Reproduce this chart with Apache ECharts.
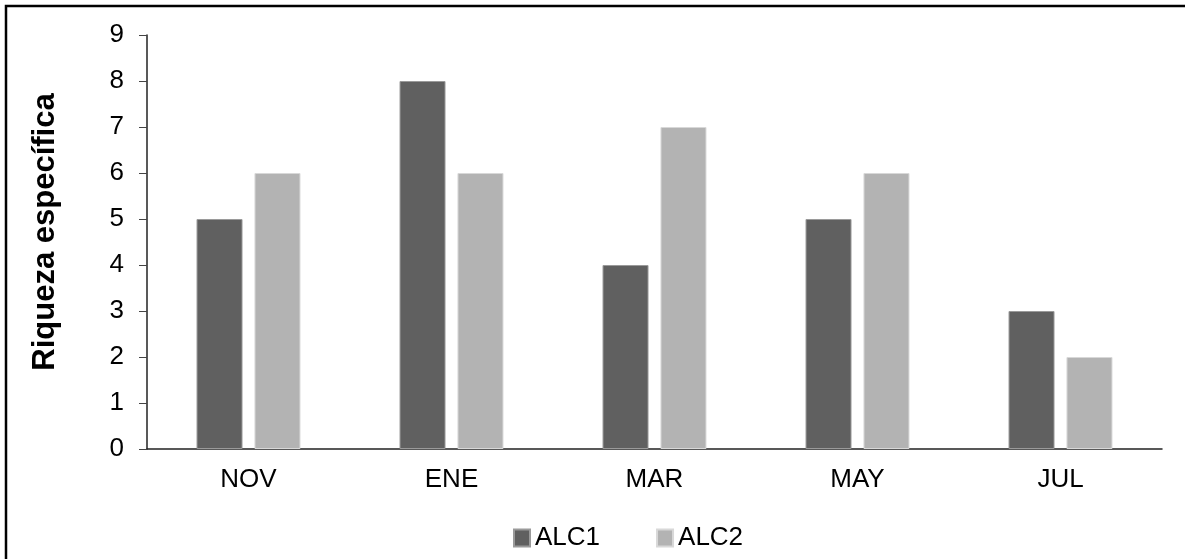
<!DOCTYPE html>
<html><head><meta charset="utf-8">
<script src="https://cdn.jsdelivr.net/npm/echarts@6/dist/echarts.min.js"></script>
<style>html,body{margin:0;padding:0;background:#fff}#c{width:1185px;height:559px}</style>
</head><body><div id="c"></div>
<script>
const categories = ['NOV','ENE','MAR','MAY','JUL'];
const alc1 = [5, 8, 4, 5, 3];
const alc2 = [6, 6, 7, 6, 2];
const yTicks = [0,1,2,3,4,5,6,7,8,9];

const chart = echarts.init(document.getElementById('c'), null, {renderer:'canvas'});
const font = 'Liberation Sans, Arial, sans-serif';
chart.setOption({
  animation:false,
  backgroundColor:'#fff',
  textStyle:{fontFamily:font},
  graphic:[{type:'rect',shape:{x:6,y:6,width:1200,height:600},style:{fill:'none',stroke:'#000',lineWidth:2.5},z:100}],
  grid:{left:147,right:23,top:35,bottom:110,containLabel:false},
  legend:{top:520,left:508,itemWidth:16,itemHeight:17,itemGap:56,
    textStyle:{fontSize:26,color:'#000',fontFamily:font},
    data:['ALC1','ALC2'], icon:'rect'},
  xAxis:[{type:'category',data:categories,
    axisLine:{lineStyle:{color:'#222',width:1.5}},
    axisTick:{length:8,lineStyle:{color:'#444'}},
    axisLabel:{fontSize:26,color:'#000',margin:18,fontFamily:font}},
   {type:'category',data:categories,position:'bottom',
    axisLine:{show:false},
    axisTick:{alignWithLabel:true,inside:true,length:6,lineStyle:{color:'#444'}},
    axisLabel:{show:false}}],
  yAxis:{type:'value',min:yTicks[0],max:yTicks[yTicks.length-1],interval:1,
    name:'Riqueza específica',nameLocation:'middle',nameGap:86,
    nameTextStyle:{fontSize:31,fontWeight:'bold',color:'#000',fontFamily:font,padding:[0,0,0,20]},
    axisLine:{show:true,lineStyle:{color:'#222',width:1.5}},
    axisTick:{show:true,length:8,lineStyle:{color:'#444'}},
    splitLine:{show:false},
    axisLabel:{fontSize:26,color:'#000',margin:23,fontFamily:font}},
  series:[
    {name:'ALC1',type:'bar',data:alc1,barWidth:46,barGap:'26%',
     itemStyle:{color:'#606060',borderColor:'#9a9a9a',borderWidth:1}},
    {name:'ALC2',type:'bar',data:alc2,barWidth:46,
     itemStyle:{color:'#b3b3b3',borderColor:'#d8d8d8',borderWidth:1}}
  ]
});
</script></body></html>
